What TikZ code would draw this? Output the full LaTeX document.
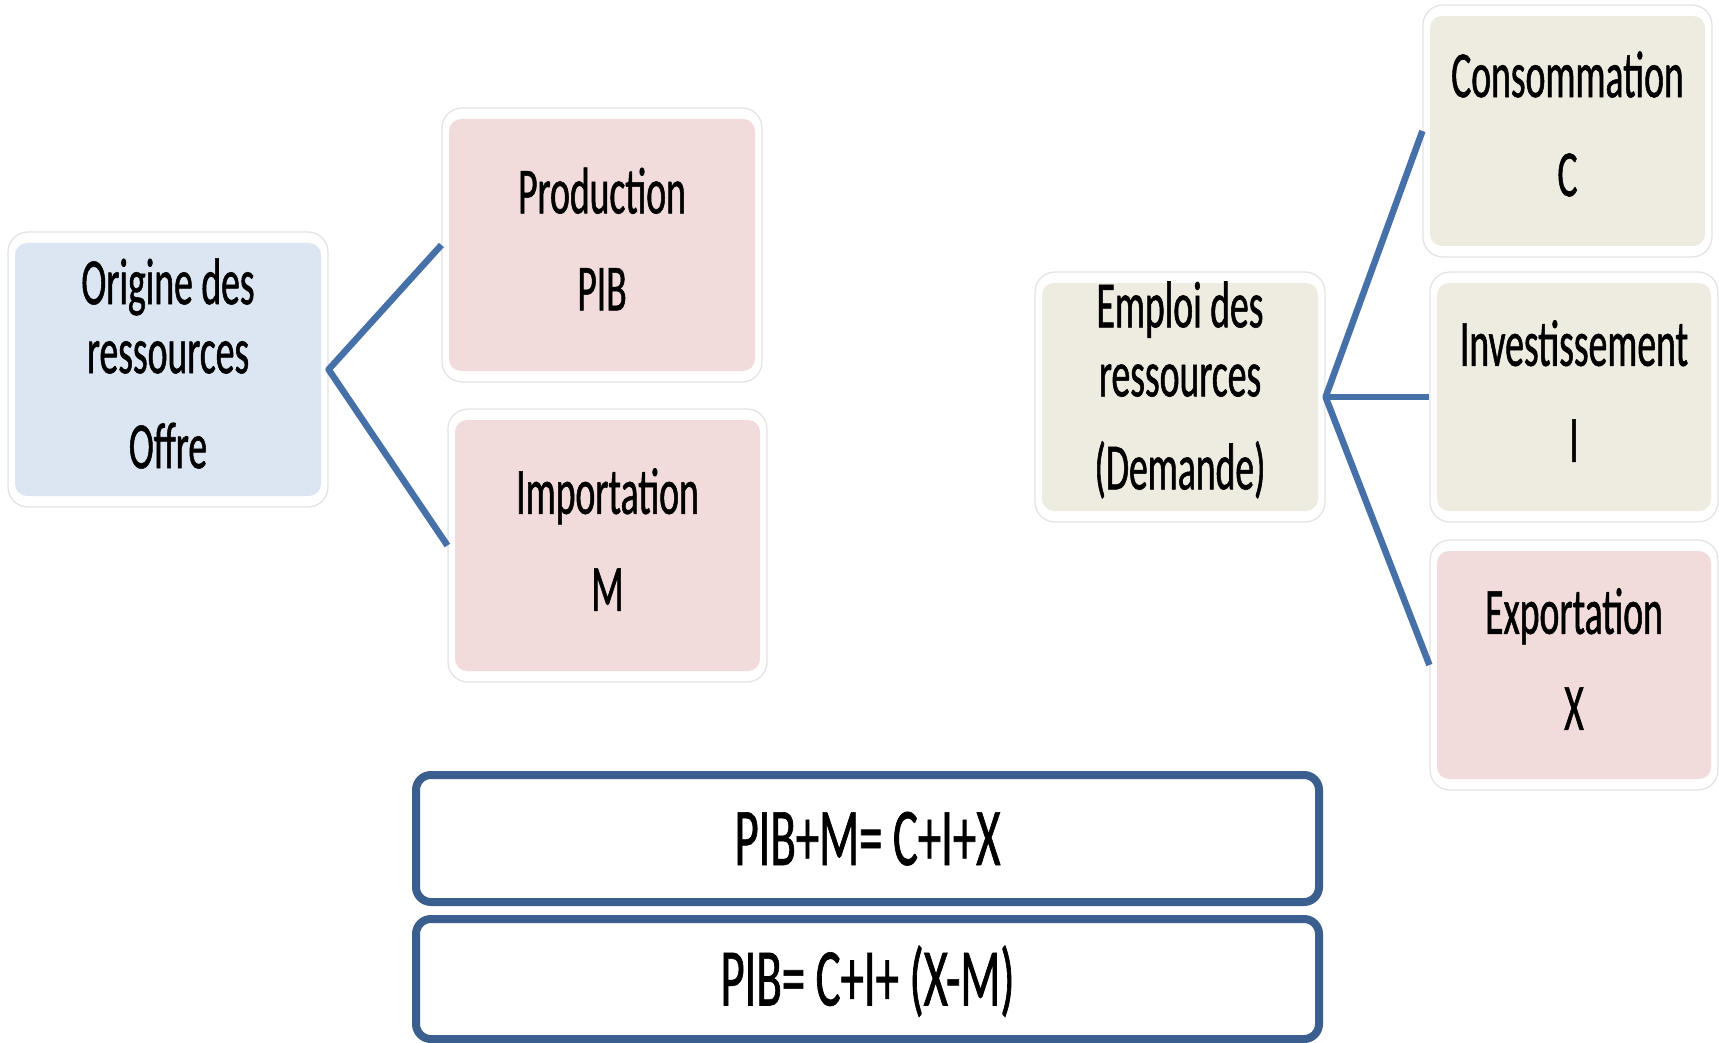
\documentclass[tikz,border=0pt]{standalone}
\usepackage{fontspec}
\newfontfamily\boxfont{Carlito}[FakeStretch=0.57,FakeBold=0.8]
\definecolor{offreblue}{HTML}{DCE6F2}
\definecolor{rosefill}{HTML}{F2DCDB}
\definecolor{beigefill}{HTML}{EEECE1}
\definecolor{linkblue}{HTML}{4671A8}
\definecolor{frameblue}{HTML}{3A5F8E}
\definecolor{haloedge}{HTML}{E2E2E2}
\tikzset{
  card/.style n args={3}{draw=haloedge, line width=1.2pt, fill=white,
    rounded corners=20pt, minimum width=#2, minimum height=#3,
    inner sep=0pt,
    path picture={\fill[#1, rounded corners=12pt]
      ([shift={(7pt,-11pt)}]path picture bounding box.north west) rectangle
      ([shift={(-7pt,11pt)}]path picture bounding box.south east);}},
  cardtext/.style={inner sep=0pt, align=center, text=black,
    font=\boxfont\fontsize{66}{69}\selectfont},
  eqbox/.style={draw=frameblue, line width=8pt, rounded corners=15pt,
    fill=white, inner sep=0pt, minimum width=903pt,
    text height=53pt, text depth=0pt,
    font=\boxfont\fontsize{82}{86}\selectfont},
  link/.style={draw=linkblue, line width=6.5pt, line join=round}
}
\begin{document}
\begin{tikzpicture}[x=1pt,y=-1pt]
  \useasboundingbox (0,0) rectangle (1719,1043);
  \clip (0,0) rectangle (1719,1043);
  \fill[white] (0,0) rectangle (1719,1043);

  % resources: origin side
  \node[card={offreblue}{320pt}{275pt}] (ori) at (168,369.5) {};
  \node[card={rosefill}{320pt}{274pt}] (prod) at (602,245) {};
  \node[card={rosefill}{319pt}{273pt}] (imp) at (607.5,545.5) {};

  % resources: use side
  \node[card={beigefill}{290pt}{250pt}] (emp) at (1180,397) {};
  \node[card={beigefill}{289pt}{252pt}] (cons) at (1567.5,131) {};
  \node[card={beigefill}{288pt}{250pt}] (inv) at (1574,397) {};
  \node[card={rosefill}{288pt}{250pt}] (expo) at (1574,665) {};

  % card captions
  \node[cardtext] (ori-t) at ([yshift=6pt]ori) {Origine des\\ressources\\[26pt]Offre};
  \node[cardtext] (prod-t) at ([yshift=6pt]prod) {Production\\[28pt]PIB};
  \node[cardtext] (imp-t) at ([yshift=6pt]imp) {Importation\\[28pt]M};
  \node[cardtext] (emp-t) at ([yshift=7pt]emp) {Emploi des\\ressources\\[24pt](Demande)};
  \node[cardtext] (cons-t) at ([yshift=7pt]cons) {Consommation\\[30pt]C};
  \node[cardtext] (inv-t) at ([yshift=6pt]inv) {Investissement\\[27pt]I};
  \node[cardtext] (expo-t) at ([yshift=6pt]expo) {Exportation\\[27pt]X};

  % branches
  \draw[link] (prod.west) -- (ori.east) -- (imp.west);
  \draw[link] (cons.west) -- (emp.east) -- (expo.west);
  \draw[link] (emp.east) -- (inv.west);

  % accounting identities
  \node[eqbox, minimum height=127pt] (eq1) at (867.5,838.5) {PIB+M= C+I+X};
  \node[eqbox, minimum height=120pt] (eq2) at (867.5,979) {PIB= C+I+ (X-M)};
\end{tikzpicture}
\end{document}
